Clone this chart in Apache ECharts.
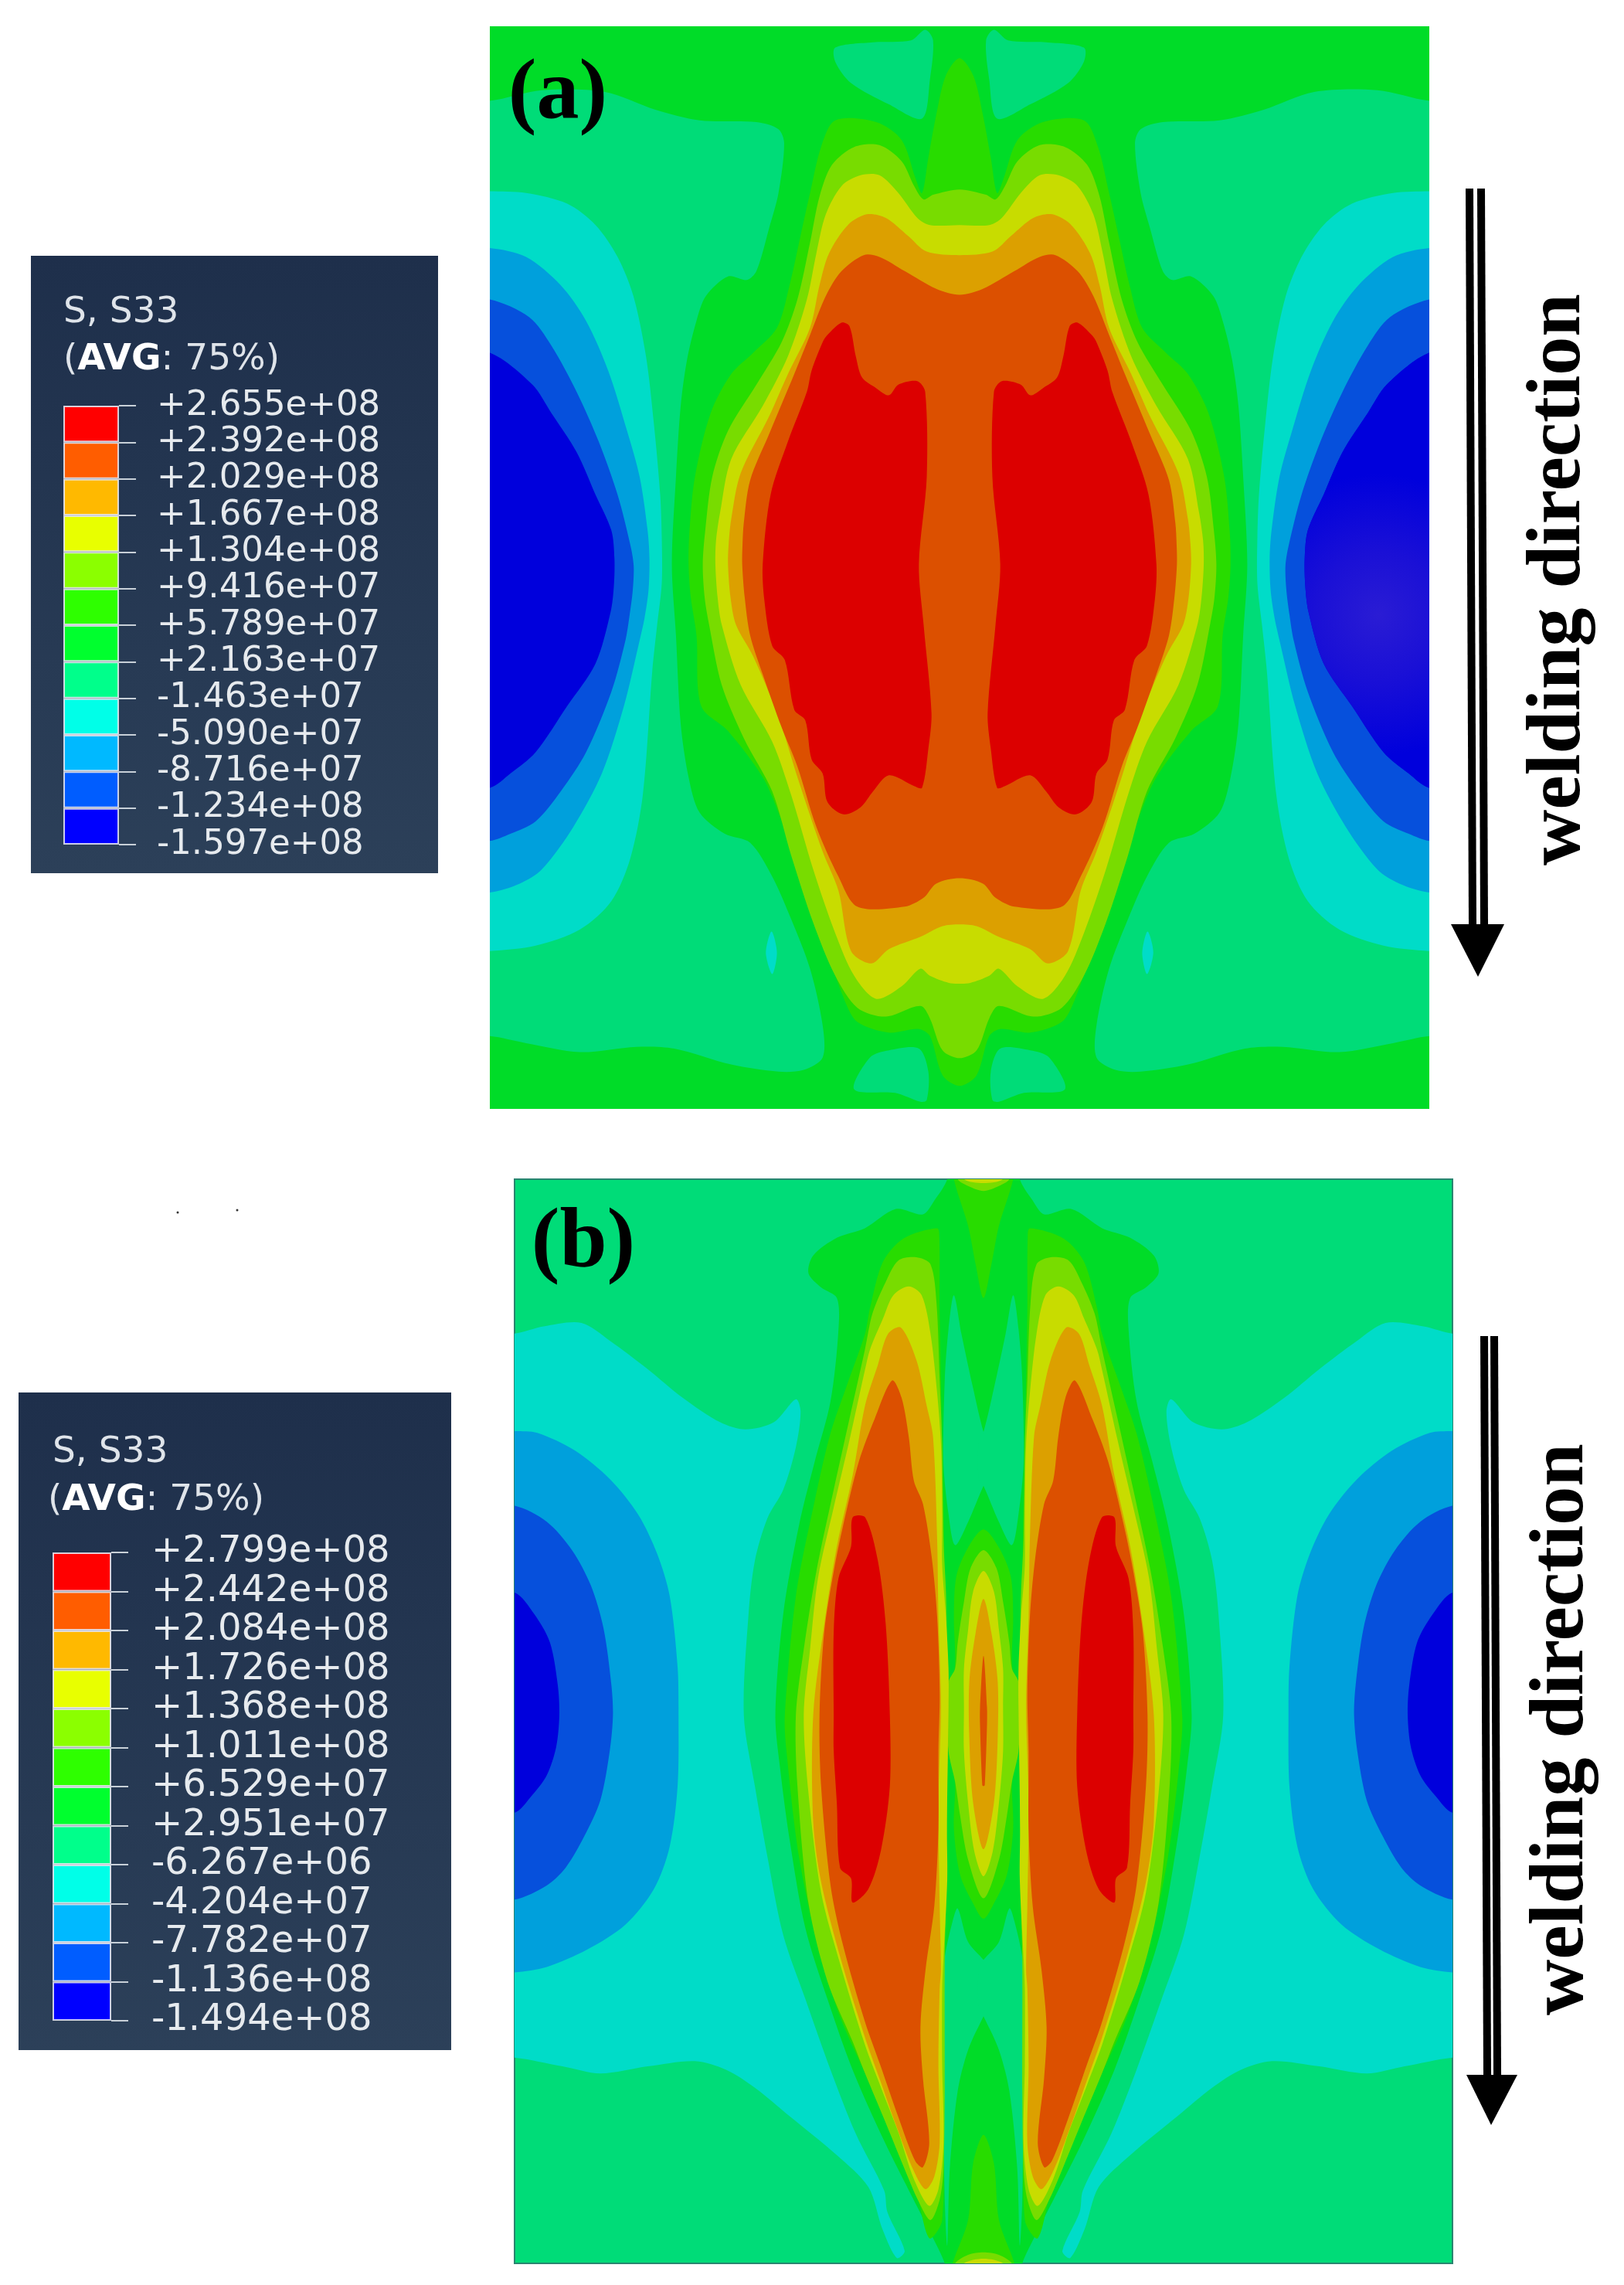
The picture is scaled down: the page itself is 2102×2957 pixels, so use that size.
<!DOCTYPE html>
<html>
<head>
<meta charset="utf-8">
<style>
  html, body { margin: 0; padding: 0; background: #fff; }
  #chart { width: 2102px; height: 2957px; }
</style>
<script src="https://cdn.jsdelivr.net/npm/echarts@6/dist/echarts.min.js"></script>
</head>
<body>
<div id="chart"></div>
<script>
// contour band colours, lowest stress first
const legendColors = ['#0000ff', '#005dff', '#00b9ff', '#00ffe8', '#00ff8b', '#00ff2e', '#2eff00', '#8bff00', '#e8ff00', '#ffb900', '#ff5d00', '#ff0000'];
const plateColors = ['#0000dc', '#0650dc', '#00a0dc', '#00dcc8', '#00dc78', '#00dc28', '#28dc00', '#78dc00', '#c8dc00', '#dca000', '#dc5000', '#dc0000'];

// legend tick labels, top to bottom
const ticksA = ['+2.655e+08', '+2.392e+08', '+2.029e+08', '+1.667e+08', '+1.304e+08', '+9.416e+07', '+5.789e+07', '+2.163e+07', '-1.463e+07', '-5.090e+07', '-8.716e+07', '-1.234e+08', '-1.597e+08'];
const ticksB = ['+2.799e+08', '+2.442e+08', '+2.084e+08', '+1.726e+08', '+1.368e+08', '+1.011e+08', '+6.529e+07', '+2.951e+07', '-6.267e+06', '-4.204e+07', '-7.782e+07', '-1.136e+08', '-1.494e+08'];

// plate (a): contour outlines, left half only
const aRangeX = [35, 3013];
const aRangeY = [30, 3081];
const aBand4Left = [[35,240],[200,210],[400,215],[560,265],[700,295],[880,300],[950,320],[968,360],[950,500],[920,600],[880,720],[850,745],[790,735],[720,790],[690,860],[660,970],[640,1100],[625,1300],[612,1546],[625,1746],[640,1996],[665,2146],[700,2246],[780,2306],[860,2331],[930,2426],[990,2546],[1050,2686],[1090,2846],[1090,2936],[1030,2971],[950,2976],[800,2956],[620,2911],[500,2906],[320,2921],[150,2896],[35,2876],[-100,2876],[-100,240]];
const aBand4Top = [[1130,90],[1250,75],[1370,70],[1415,40],[1440,70],[1430,180],[1405,290],[1300,250],[1180,190],[1130,130]];
const aBand4Bottom = [[1190,3026],[1240,2936],[1300,2916],[1395,2911],[1425,2976],[1420,3056],[1400,3061],[1320,3036]];
const aBand3Left = [[35,495],[150,500],[280,530],[370,590],[440,680],[490,790],[530,960],[555,1150],[575,1350],[580,1470],[580,1600],[565,1720],[550,1846],[520,2196],[480,2376],[420,2496],[320,2576],[180,2621],[35,2636],[-100,2636],[-100,495]];
const aBand3Spot = [[928,2581],[945,2641],[930,2701],[910,2641]];
const aBand2Left = [[35,655],[150,680],[260,760],[340,860],[410,1000],[470,1170],[510,1300],[535,1450],[541,1530],[538,1620],[525,1700],[510,1760],[460,1946],[390,2136],[300,2286],[200,2406],[130,2446],[35,2471],[-100,2471],[-100,655]];
const aBand1Left = [[35,800],[160,850],[230,930],[310,1060],[380,1200],[440,1350],[480,1490],[491,1550],[488,1620],[478,1690],[465,1760],[420,1906],[340,2076],[260,2186],[180,2271],[100,2306],[35,2326],[-100,2326],[-100,800]];
const aBand0Left = [[35,950],[170,1040],[230,1120],[310,1230],[370,1350],[420,1450],[430,1530],[428,1610],[418,1680],[370,1826],[280,1946],[180,2076],[100,2136],[35,2176],[-100,2176],[-100,950]];
const aBand6 = [[1524,120],[1480,170],[1450,280],[1425,400],[1405,500],[1385,460],[1340,350],[1260,300],[1130,295],[1085,370],[1050,500],[1020,620],[985,760],[945,880],[870,950],[800,1010],[735,1120],[685,1300],[668,1450],[665,1546],[672,1640],[690,1746],[705,1946],[790,2016],[900,2146],[950,2246],[1010,2396],[1080,2576],[1160,2776],[1200,2836],[1300,2866],[1395,2856],[1430,2876],[1470,2986],[1524,3016]];
const aBand7 = [[1524,490],[1440,505],[1410,518],[1380,480],[1340,410],[1270,365],[1190,370],[1120,420],[1080,510],[1050,640],[1010,800],[960,920],[880,1040],[790,1170],[740,1300],[718,1450],[710,1546],[716,1640],[730,1716],[770,1886],[840,2036],[930,2186],[990,2366],[1060,2556],[1130,2706],[1200,2796],[1290,2821],[1400,2791],[1430,2826],[1470,2916],[1524,2938]];
const aBand8 = [[1524,590],[1430,590],[1390,570],[1330,500],[1270,450],[1210,450],[1150,480],[1100,560],[1070,670],[1040,800],[980,960],[900,1100],[800,1250],[765,1400],[752,1480],[750,1546],[757,1640],[770,1716],[830,1886],[930,2046],[990,2196],[1060,2406],[1130,2586],[1190,2706],[1260,2771],[1340,2736],[1400,2686],[1430,2706],[1490,2726],[1524,2728]];
const aBand9 = [[1524,675],[1420,665],[1360,620],[1290,570],[1230,560],[1170,590],[1110,670],[1080,760],[1050,880],[980,1010],[920,1130],[830,1290],[800,1420],[792,1490],[790,1546],[798,1640],[815,1716],[870,1806],[950,1976],[1010,2146],[1090,2356],[1140,2466],[1180,2636],[1245,2671],[1300,2631],[1400,2596],[1470,2566],[1524,2561]];
const aBand10 = [[1524,787],[1450,770],[1350,720],[1270,680],[1220,675],[1150,720],[1100,790],[1050,900],[1000,1010],[920,1180],[860,1310],[840,1430],[836,1490],[835,1546],[843,1640],[860,1746],[900,1856],[960,2006],[1010,2116],[1070,2286],[1140,2426],[1200,2511],[1350,2511],[1410,2486],[1450,2446],[1524,2431]];
const aBand11 = [[1150,865],[1175,875],[1195,960],[1215,1020],[1260,1050],[1300,1070],[1330,1040],[1390,1030],[1415,1060],[1420,1300],[1395,1546],[1410,1716],[1435,1966],[1425,2066],[1405,2176],[1380,2171],[1300,2141],[1250,2186],[1210,2231],[1155,2251],[1105,2216],[1090,2136],[1055,2096],[1035,1986],[1000,1956],[970,1816],[930,1776],[905,1646],[900,1546],[925,1350],[980,1200],[1040,1060],[1055,1000],[1090,920],[1105,900]];

// plate (b)
const bRangeX = [28, 3002];
const bRangeY = [25, 3080];
const bBand3Left = [[28,460],[120,440],[240,430],[330,480],[450,560],[560,640],[680,710],[760,730],[850,710],[920,645],[935,680],[920,780],[880,900],[830,980],[790,1100],[770,1250],[755,1535],[790,1735],[830,1935],[880,2155],[950,2335],[1030,2535],[1110,2715],[1200,2875],[1210,2935],[1265,3045],[1240,3065],[1195,2985],[1150,2865],[1050,2775],[900,2665],[790,2585],[700,2535],[600,2510],[450,2525],[300,2545],[180,2525],[28,2500],[-100,2500],[-100,460]];
const bBand2Left = [[28,735],[100,740],[220,790],[330,870],[420,970],[480,1080],[520,1200],[545,1400],[548,1535],[545,1735],[520,1905],[470,2025],[380,2125],[260,2195],[130,2245],[28,2260],[-100,2260],[-100,735]];
const bBand1Left = [[28,945],[130,990],[210,1070],[270,1170],[310,1290],[335,1450],[340,1535],[330,1635],[300,1775],[250,1875],[190,1965],[130,2015],[28,2055],[-100,2055],[-100,945]];
const bBand0Left = [[28,1190],[90,1250],[140,1330],[165,1450],[170,1535],[160,1625],[130,1705],[80,1765],[28,1810],[-100,1810],[-100,1190]];
const bBand5 = [[1515,-30],[1400,-30],[1400,25],[1360,84],[1323,124],[1237,109],[1139,163],[1050,190],[975,240],[960,290],[1000,330],[1050,360],[1055,450],[1030,650],[980,820],[930,1000],[880,1250],[855,1535],[870,1685],[900,1885],[950,2135],[1020,2335],[1100,2535],[1200,2735],[1290,2895],[1350,3000],[1392,3080],[1392,3110],[1515,3110]];
const bSlitUpper = [[1421,352],[1445,461],[1482,614],[1515,737],[1530,760],[1530,870],[1515,889],[1466,991],[1425,1056],[1404,969],[1388,824],[1392,592],[1404,447]];
const bSlitLower = [[1433,2080],[1466,2174],[1515,2225],[1530,2250],[1530,2360],[1515,2384],[1466,2479],[1433,2595],[1408,2813],[1400,3030],[1392,2900],[1388,2595],[1388,2305],[1392,2218],[1417,2116]];
const bBand6Top = [[1515,-30],[1421,-30],[1421,25],[1466,156],[1490,265],[1515,360]];
const bBand7Top = [[1515,-30],[1433,-30],[1433,24],[1466,44],[1515,58]];
const bBand8Top = [[1515,-30],[1453,-30],[1453,24],[1515,36]];
const bBand6Bottom = [[1515,2718],[1482,2798],[1466,2958],[1417,3080],[1417,3110],[1515,3110]];
const bBand7Bottom = [[1515,3049],[1466,3056],[1425,3080],[1425,3110],[1515,3110]];
const bBand8Bottom = [[1515,3067],[1453,3080],[1453,3110],[1515,3110]];
const bBand6Wing = [[1368,163],[1261,192],[1196,258],[1155,388],[1139,461],[1080,610],[1030,740],[980,930],[920,1200],[885,1535],[890,1635],[930,1935],[990,2185],[1060,2385],[1160,2585],[1230,2735],[1300,2875],[1343,3009],[1384,2958],[1388,2595],[1388,2305],[1388,2000],[1395,1500],[1390,1041],[1384,773],[1376,400],[1375,190]];
const bBand7Wing = [[1302,245],[1245,254],[1204,316],[1163,403],[1139,505],[1090,700],[1040,900],[985,1130],[945,1350],[920,1535],[925,1735],[960,2065],[1020,2285],[1100,2455],[1139,2544],[1204,2682],[1261,2806],[1310,2907],[1347,2958],[1376,2900],[1388,2813],[1392,2595],[1392,2218],[1396,2073],[1400,1710],[1404,1513],[1400,1368],[1396,1187],[1388,1041],[1384,773],[1376,592],[1366,374],[1347,265]];
const bBand8Wing = [[1278,327],[1229,352],[1196,418],[1155,505],[1139,563],[1090,760],[1040,950],[990,1150],[965,1350],[945,1535],[960,1755],[1000,2035],[1060,2235],[1139,2464],[1188,2580],[1245,2711],[1294,2842],[1343,2918],[1372,2871],[1388,2740],[1384,2522],[1384,2305],[1388,2218],[1400,1999],[1399,1855],[1402,1637],[1404,1513],[1404,1404],[1396,1259],[1384,1114],[1384,969],[1380,773],[1368,628],[1347,461],[1319,352]];
const bBand9Wing = [[1253,443],[1212,461],[1180,548],[1139,664],[1100,860],[1050,1060],[1010,1280],[975,1535],[975,1835],[1000,2005],[1060,2215],[1139,2443],[1188,2566],[1237,2689],[1294,2820],[1331,2871],[1359,2835],[1376,2740],[1372,2522],[1376,2305],[1380,2254],[1376,2073],[1372,1782],[1380,1513],[1372,1259],[1368,1041],[1355,751],[1335,664],[1302,534]];
const bBand10Wing = [[1225,592],[1170,700],[1120,820],[1070,1000],[1040,1130],[1010,1300],[995,1535],[1000,1735],[1030,2015],[1070,2185],[1139,2399],[1188,2522],[1245,2668],[1298,2791],[1323,2809],[1343,2740],[1323,2559],[1315,2414],[1331,2254],[1359,2073],[1372,1855],[1372,1637],[1376,1477],[1368,1259],[1351,1092],[1323,940],[1294,874],[1278,751],[1255,640]];
const bBand11Wing = [[1100,978],[1140,978],[1180,1100],[1205,1280],[1218,1535],[1218,1735],[1190,1915],[1150,2025],[1100,2063],[1095,1995],[1060,1965],[1050,1785],[1040,1635],[1040,1535],[1040,1300],[1055,1150],[1095,1060]];
const bBand6Lens = [[1515,1012],[1466,1063],[1429,1143],[1421,1259],[1425,1383],[1413,1513],[1413,1637],[1425,1724],[1421,1855],[1441,1986],[1482,2066],[1515,2109]];
const bBand7Lens = [[1515,1070],[1474,1121],[1453,1216],[1433,1332],[1425,1404],[1404,1441],[1400,1513],[1404,1637],[1425,1724],[1441,1819],[1466,1942],[1515,2051]];
const bBand8Lens = [[1515,1129],[1482,1187],[1466,1296],[1453,1404],[1453,1513],[1453,1637],[1466,1782],[1486,1920],[1515,1989]];
const bBand9Lens = [[1515,1208],[1490,1303],[1470,1441],[1470,1601],[1482,1782],[1515,1913]];
const bBand10Lens = [[1515,1368],[1504,1513],[1504,1565],[1511,1732],[1515,1735]];

// [outline, band, kind] kind: pair = drawn left and mirrored right, sym = closed over the centre line, glow = right side only, lighter middle
const aLayers = [
  [aBand4Left, 4, 'pair'], [aBand4Top, 4, 'pair'], [aBand4Bottom, 4, 'pair'],
  [aBand3Left, 3, 'pair'], [aBand3Spot, 3, 'pair'], [aBand2Left, 2, 'pair'], [aBand1Left, 1, 'pair'], [aBand0Left, 0, 'pair'],
  [aBand0Left, 0, 'glow'],
  [aBand6, 6, 'sym'], [aBand7, 7, 'sym'], [aBand8, 8, 'sym'], [aBand9, 9, 'sym'], [aBand10, 10, 'sym'],
  [aBand11, 11, 'pair']
];
const bLayers = [
  [bBand3Left, 3, 'pair'], [bBand2Left, 2, 'pair'], [bBand1Left, 1, 'pair'], [bBand0Left, 0, 'pair'],
  [bBand5, 5, 'sym'], [bSlitUpper, 4, 'pair'], [bSlitLower, 4, 'pair'],
  [bBand6Wing, 6, 'pair'], [bBand6Top, 6, 'sym'], [bBand6Bottom, 6, 'sym'], [bBand6Lens, 6, 'sym'],
  [bBand7Wing, 7, 'pair'], [bBand7Top, 7, 'sym'], [bBand7Bottom, 7, 'sym'], [bBand7Lens, 7, 'sym'],
  [bBand8Wing, 8, 'pair'], [bBand8Top, 8, 'sym'], [bBand8Bottom, 8, 'sym'], [bBand8Lens, 8, 'sym'],
  [bBand9Wing, 9, 'pair'], [bBand9Lens, 9, 'sym'],
  [bBand10Wing, 10, 'pair'], [bBand10Lens, 10, 'sym'],
  [bBand11Wing, 11, 'pair']
];

const chart = echarts.init(document.getElementById('chart'));

function plateSeries(layers, range, axisIndex) {
  const centre = (range[0] + range[1]) / 2;
  const flip = (p) => [2 * centre - p[0], p[1]];
  return {
    type: 'custom',
    xAxisIndex: axisIndex,
    yAxisIndex: axisIndex,
    clip: true,
    silent: true,
    animation: false,
    data: layers.map((l, i) => [range[0], i]),
    encode: { x: 0, y: 1 },
    renderItem(params, api) {
      const layer = layers[params.dataIndex];
      const poly = (pts, fill) => ({
        type: 'polygon',
        shape: { points: pts.map((p) => api.coord(p)), smooth: 0.3 },
        style: { fill: fill || plateColors[layer[1]] }
      });
      if (layer[2] === 'sym') {
        const back = layer[0].filter((p) => p[0] !== centre).map(flip).reverse();
        return poly(layer[0].concat(back));
      }
      if (layer[2] === 'glow') {
        return poly(layer[0].map(flip), new echarts.graphic.RadialGradient(0.42, 0.6, 0.8, [
          { offset: 0, color: '#2a1cd4' },
          { offset: 0.45, color: '#1a10d6' },
          { offset: 1, color: plateColors[0] }
        ]));
      }
      return { type: 'group', children: [poly(layer[0]), poly(layer[0].map(flip))] };
    }
  };
}

function legendSeries(axisIndex) {
  return legendColors.map((c) => ({
    type: 'bar',
    stack: 'bar' + axisIndex,
    xAxisIndex: axisIndex,
    yAxisIndex: axisIndex,
    barWidth: '100%',
    silent: true,
    data: [1],
    itemStyle: { color: c, borderColor: 'rgba(235,235,245,0.85)', borderWidth: 2 }
  }));
}

function legendAxes(labels, fontSize, margin) {
  return {
    x: { type: 'category', data: ['S33'], show: false },
    y: {
      type: 'value',
      position: 'right',
      min: 0,
      max: 12,
      interval: 1,
      splitLine: { show: false },
      axisLine: { show: false },
      axisTick: { show: true, length: 22, lineStyle: { color: '#c8d0d8', width: 2 } },
      axisLabel: {
        margin: margin,
        align: 'left',
        color: '#e6eaee',
        fontFamily: 'DejaVu Sans',
        fontSize: fontSize,
        formatter: (v) => labels[12 - v]
      }
    }
  };
}

function legendBox(x, y, w, h) {
  return {
    type: 'rect',
    shape: { x: x, y: y, width: w, height: h },
    style: {
      fill: new echarts.graphic.LinearGradient(0, 0, 0, 1, [
        { offset: 0, color: '#1e2f4b' },
        { offset: 1, color: '#2c4059' }
      ])
    }
  };
}

function legendTitle(x1, x2, y1, y2, fontSize) {
  const base = { fill: '#dfe4ea', fontFamily: 'DejaVu Sans', fontSize: fontSize };
  return [
    { type: 'text', x: x1, y: y1, style: Object.assign({ text: 'S, S33', verticalAlign: 'middle' }, base) },
    {
      type: 'text',
      x: x2,
      y: y2,
      style: Object.assign({
        text: '{n|(}{b|AVG}{n|: 75%)}',
        verticalAlign: 'middle',
        rich: {
          n: { fill: '#dfe4ea', fontFamily: 'DejaVu Sans', fontSize: fontSize },
          b: { fill: '#ffffff', fontFamily: 'DejaVu Sans', fontWeight: 'bold', fontSize: fontSize }
        }
      }, base)
    }
  ];
}

function arrow(x1, x2, top, headTop, tip, headL, headR, tipX) {
  const line = (x) => ({
    type: 'line',
    shape: { x1: x, y1: top, x2: x + 4, y2: headTop },
    style: { stroke: '#000', lineWidth: 10 }
  });
  return [
    line(x1),
    line(x2),
    { type: 'polygon', shape: { points: [[headL, headTop], [headR, headTop], [tipX, tip]] }, style: { fill: '#000' } }
  ];
}

function sideText(x, y) {
  return {
    type: 'text',
    x: x,
    y: y,
    rotation: Math.PI / 2,
    style: {
      text: 'welding direction',
      align: 'center',
      verticalAlign: 'middle',
      fill: '#000',
      fontFamily: 'Liberation Serif',
      fontWeight: 'bold',
      fontSize: 100
    }
  };
}

function panelTag(text, x, y) {
  return {
    type: 'text',
    x: x,
    y: y,
    z: 10,
    style: {
      text: text,
      align: 'center',
      verticalAlign: 'middle',
      fill: '#000',
      fontFamily: 'Liberation Serif',
      fontWeight: 'bold',
      fontSize: 110
    }
  };
}

const legendA = legendAxes(ticksA, 45, 49);
const legendB = legendAxes(ticksB, 48, 52);

const option = {
  animation: false,
  backgroundColor: '#fff',
  grid: [
    { left: 634, top: 34, width: 1216, height: 1401, show: true, backgroundColor: plateColors[5], borderWidth: 0 },
    { left: 666, top: 1526, width: 1214, height: 1403, show: true, backgroundColor: plateColors[4], borderColor: '#2a8570', borderWidth: 2 },
    { left: 82, top: 525, width: 72, height: 568 },
    { left: 68, top: 2009, width: 76, height: 606 }
  ],
  xAxis: [
    { type: 'value', gridIndex: 0, min: aRangeX[0], max: aRangeX[1], show: false },
    { type: 'value', gridIndex: 1, min: bRangeX[0], max: bRangeX[1], show: false },
    Object.assign({}, legendA.x, { gridIndex: 2 }),
    Object.assign({}, legendB.x, { gridIndex: 3 })
  ],
  yAxis: [
    { type: 'value', gridIndex: 0, min: aRangeY[0], max: aRangeY[1], inverse: true, show: false },
    { type: 'value', gridIndex: 1, min: bRangeY[0], max: bRangeY[1], inverse: true, show: false },
    Object.assign({}, legendA.y, { gridIndex: 2 }),
    Object.assign({}, legendB.y, { gridIndex: 3 })
  ],
  series: [plateSeries(aLayers, aRangeX, 0), plateSeries(bLayers, bRangeX, 1)]
    .concat(legendSeries(2), legendSeries(3)),
  graphic: {
    elements: [
      legendBox(40, 331, 527, 799),
      legendBox(24, 1802, 560, 851)
    ].concat(
      legendTitle(82, 82, 405, 466, 47),
      legendTitle(68, 62, 1880, 1942, 47),
      arrow(1902, 1917, 244, 1196, 1264, 1878, 1947, 1913),
      arrow(1921, 1934, 1729, 2685, 2750, 1898, 1964, 1930),
      [
        sideText(2018, 750),
        sideText(2022, 2238),
        panelTag('(a)', 722, 124),
        panelTag('(b)', 755, 1611),
        { type: 'circle', shape: { cx: 230, cy: 1569, r: 1.5 }, style: { fill: '#333' } },
        { type: 'circle', shape: { cx: 307, cy: 1566, r: 1.5 }, style: { fill: '#333' } }
      ]
    )
  }
};

chart.setOption(option);
</script>
</body>
</html>
